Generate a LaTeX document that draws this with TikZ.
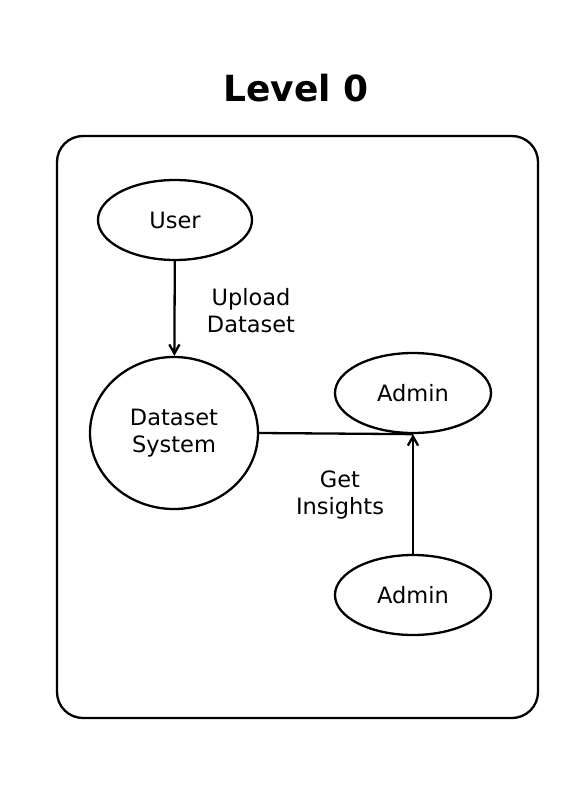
\documentclass[tikz,border=0pt]{standalone}
\usepackage{fontspec}
\setmainfont{DejaVu Sans}
\usetikzlibrary{arrows.meta,shapes.geometric}

\begin{document}
\begin{tikzpicture}[x=1pt,y=-1pt,line width=2.3pt,>={Straight Barb[length=3.2mm,width=3.6mm]},
    proc/.style={draw,ellipse,inner sep=0pt,align=center,font=\fontsize{22.5}{27}\selectfont},
    lbl/.style={align=center,font=\fontsize{22.5}{27}\selectfont}]
        \useasboundingbox (0,0) rectangle (576,811);
        \node[font=\bfseries\fontsize{36}{40}\selectfont] (title) at (296,88) {Level 0};
        \draw[rounded corners=26pt] (57,136) rectangle (538,718);
        % processes
        \node[proc,minimum width=154pt,minimum height=80pt] (user) at (175,220) {User};
        \node[proc,minimum width=168pt,minimum height=152pt] (data) at (174,433) {Dataset\\System};
        \node[proc,minimum width=156pt,minimum height=80pt] (admin1) at (413,393) {Admin};
        \node[proc,minimum width=156pt,minimum height=80pt] (admin2) at (413,595) {Admin};
        % flows
        \draw[->] (user) -- (data);
        \draw (data.east) -- (admin1.south);
        \draw[->] (admin2.north) -- (admin1.south);
        \node[lbl] (upload) at (251,311) {Upload\\Dataset};
        \node[lbl] (insights) at (340,495) {Get\\Insights};
      \end{tikzpicture}
\end{document}
